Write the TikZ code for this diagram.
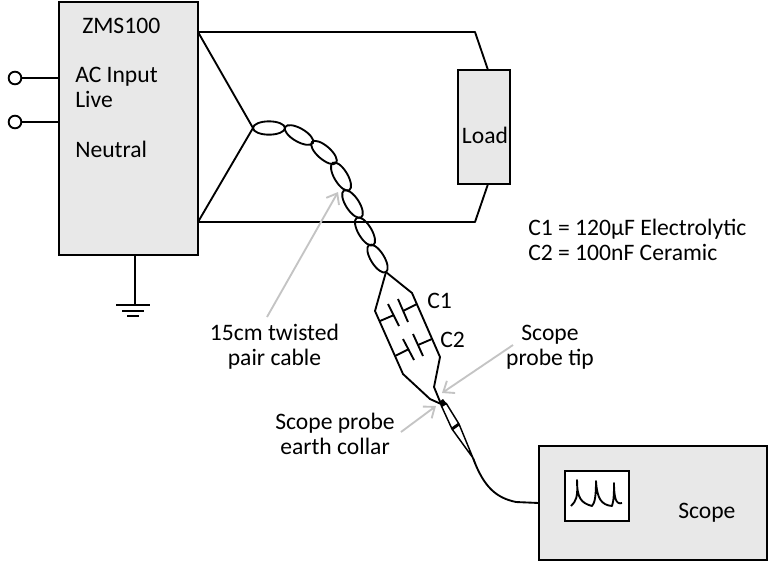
\documentclass[tikz,border=0pt]{standalone}
\usepackage{fontspec}
\setmainfont{Carlito}
\usetikzlibrary{arrows.meta,shapes.geometric}
\definecolor{boxgrey}{HTML}{E8E8E8}
\definecolor{pointergrey}{HTML}{C4C4C4}
\tikzset{
  wire/.style={line width=1.4pt,line join=round},
  unit/.style={draw,line width=1.5pt,fill=boxgrey,inner sep=0pt,outer sep=0pt},
  twist/.style={draw,ellipse,line width=1.4pt,inner sep=0pt,outer sep=0pt,minimum width=24pt,minimum height=10pt},
  terminal/.style={draw,circle,line width=1.4pt,inner sep=0pt,outer sep=0pt,minimum size=9.5pt},
  pointer/.style={draw=pointergrey,line width=1.4pt,-{Straight Barb[length=7pt,width=11pt,line width=1.4pt]}},
  lbl/.style={inner sep=0pt,font=\fontsize{17.7}{18.75}\selectfont},
}
\begin{document}
\begin{tikzpicture}[x=0.75pt,y=-0.75pt]
  \useasboundingbox (0,0) rectangle (771,562);

  \node[unit,minimum width=104.5pt,minimum height=190pt] (zms) at (128.5,128.5) {};
  \node[unit,minimum width=39pt,minimum height=85.5pt] (load) at (484,127) {};
  \node[unit,minimum width=171pt,minimum height=85.5pt] (scope) at (653,503) {};
  \node[draw,line width=1.4pt,fill=white,inner sep=0pt,outer sep=0pt,minimum width=48pt,minimum height=38pt] (screen) at (597,496) {};

  \node[terminal] (live) at (15,78) {};
  \node[terminal] (neutral) at (15,122) {};
  \draw[wire] (live) -- (zms.west |- live);
  \draw[wire] (neutral) -- (zms.west |- neutral);

  \coordinate (gnd) at (135,305);
  \draw[wire] (zms.south -| gnd) -- (gnd);
  \draw[wire] (116,305) -- (150,305);
  \draw[wire] (122,311) -- (144,311);
  \draw[wire] (127,316) -- (139,316);

  \node[twist] (tw1) at (269,128) {};
  \node[twist,rotate=-30] (tw2) at (299,135) {};
  \node[twist,rotate=-41] (tw3) at (324,152.5) {};
  \node[twist,rotate=-59] (tw4) at (341,176.5) {};
  \node[twist,rotate=-57] (tw5) at (352.5,204) {};
  \node[twist,rotate=-59] (tw6) at (365,231.5) {};
  \node[twist,rotate=-58] (tw7) at (377.5,258.5) {};

  \coordinate (zmstop) at (198,32); \coordinate (zmsbot) at (198,222);
  \draw[wire] (zmstop) -- (475,32) -- (load.north -| 488,0);
  \draw[wire] (zmsbot) -- (475,222) -- (load.south -| 488,0);
  \draw[wire] (zmstop) -- (tw1.west) -- (zmsbot);

  \coordinate (collar) at (441,404);
  \draw[wire] (tw7.east) -- (375,311) -- (403,374) -- (430,399) -- (collar);
  \draw[wire] (tw7.east) -- (412,293) -- (440,357) -- (434,387) -- (collar);

  \draw[wire] (380,321) -- (394,315);
  \draw[wire] (388,304) -- (399,326);
  \draw[wire] (398,299) -- (408,322);
  \draw[wire] (403,311) -- (417,304);

  \draw[wire] (395,356) -- (409,349);
  \draw[wire] (403,339) -- (414,360);
  \draw[wire] (413,334) -- (423,356);
  \draw[wire] (418,345) -- (432,339);

  \fill (439,402) -- (443,399) -- (447,404) -- (442,407) -- cycle;
  \coordinate (probeend) at (473,458);
  \draw[line width=1.1pt] (441,405) -- (452,429) -- (probeend) -- (459,424) -- (446,403);
  \draw[line width=2.2pt] (452,429) -- (459,424);
  \draw[wire] (probeend) .. controls (484,488) and (497,498) .. (516,502) -- (scope.west |- 0,503);

  \draw[wire] (571,506) .. controls (576,501) and (578,498) .. (577,480)
    .. controls (577,498) and (581,503) .. (592,506)
    .. controls (595,503) and (596,495) .. (596,481)
    .. controls (597,498) and (601,505) .. (612,506)
    .. controls (614,500) and (614,492) .. (614,483)
    .. controls (614,498) and (616,505) .. (622,503);

  \node[lbl,anchor=base west] (zmstext) at (82,33) {ZMS100};
  \node[lbl,anchor=west,align=left] (acinput) at (75,112) {AC Input\\Live\\[18.75pt]Neutral};
  \node[lbl] (loadtext) at (485,135) {Load};
  \node[lbl,anchor=base west] (scopetext) at (678,518) {Scope};
  \node[lbl,anchor=base west] (c1text) at (427,308) {C1};
  \node[lbl,anchor=base west] (c2text) at (440,347) {C2};
  \node[lbl,anchor=west,align=left] (values) at (528,240) {C1 = 120µF Electrolytic\\C2 = 100nF Ceramic};
  \node[lbl,align=center] (twisted) at (274.5,347) {15cm twisted\\pair cable};
  \node[lbl,align=center] (tiptext) at (550,347) {Scope\\probe tip};
  \node[lbl,align=center] (collartext) at (335,434) {Scope probe\\earth collar};

  \draw[pointer] (267,317) -- (338,192);
  \draw[pointer] (513,345) -- (442,393);
  \draw[pointer] (401,432) -- (436,406);
\end{tikzpicture}
\end{document}
